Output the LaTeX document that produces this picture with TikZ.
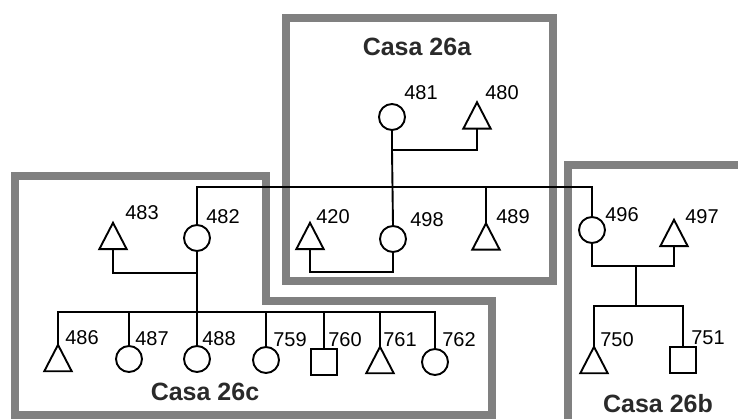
\documentclass[tikz,border=0pt]{standalone}
\usepackage{fontspec}
\setmainfont{Liberation Sans}
\definecolor{boxgray}{HTML}{808080}
\definecolor{casatext}{HTML}{2A2A2A}
\tikzset{
  ln/.style={line width=1.9pt, line join=miter},
  fem/.style={circle, draw, line width=1.9pt, minimum size=26pt, inner sep=0pt},
  sq/.style={rectangle, draw, line width=1.9pt, minimum size=26pt, inner sep=0pt},
  tri/.style={rectangle, draw=none, minimum width=27pt, minimum height=26pt, inner sep=0pt,
    append after command={\pgfextra{\draw[line width=1.9pt, line join=miter]
      (\tikzlastnode.south west) -- (\tikzlastnode.north) -- (\tikzlastnode.south east) -- cycle;}}},
  num/.style={font=\fontsize{20}{24}\selectfont, inner sep=0pt},
  casa/.style={font=\bfseries\fontsize{25}{30}\selectfont, text=casatext, inner sep=0pt},
  gbox/.style={draw=boxgray, line width=8pt, line join=miter}
}
\begin{document}
\begin{tikzpicture}[x=1pt,y=-1pt]
\useasboundingbox (0,0) rectangle (738,419);
\clip (0,0) rectangle (738,419);
% boxes
\draw[gbox] (15,415) -- (15,176) -- (266,176) -- (266,301) -- (492,301) -- (492,415) -- cycle;
\draw[gbox] (286,18) rectangle (553,281);
\draw[gbox] (568,440) -- (568,165) -- (760,165);
% box titles
\node[casa] (casaA) at (417,47) {Casa 26a};
\node[casa] (casaC) at (205,392) {Casa 26c};
\node[casa] (casaB) at (658,404) {Casa 26b};
% individuals
\node[fem] (c481) at (392,117) {};
\node[tri] (t480) at (477,115.5) {};
\node[fem] (c498) at (393,239) {};
\node[tri] (t420) at (310,236) {};
\node[tri] (t489) at (486,236.5) {};
\node[fem] (c482) at (197,238) {};
\node[tri] (t483) at (113,236) {};
\node[fem] (c496) at (592,230) {};
\node[tri] (t497) at (674,233) {};
\node[tri] (t486) at (58,358) {};
\node[fem] (c487) at (129,359) {};
\node[fem] (c488) at (197,359) {};
\node[fem] (c759) at (266,360) {};
\node[sq]  (s760) at (324,362) {};
\node[tri] (t761) at (380,360) {};
\node[fem] (c762) at (435,362) {};
\node[tri] (t750) at (594,360) {};
\node[sq]  (s751) at (683,360) {};
% labels
\node[num] (l481) at (421,93) {481};
\node[num] (l480) at (502,93) {480};
\node[num] (l498) at (427,220) {498};
\node[num] (l420) at (333,217) {420};
\node[num] (l489) at (513,217) {489};
\node[num] (l483) at (142,213) {483};
\node[num] (l482) at (223,217) {482};
\node[num] (l496) at (622,215) {496};
\node[num] (l497) at (702,217) {497};
\node[num] (l486) at (82,338) {486};
\node[num] (l487) at (152,339) {487};
\node[num] (l488) at (219,339) {488};
\node[num] (l759) at (290,340) {759};
\node[num] (l760) at (345,340) {760};
\node[num] (l761) at (400,340) {761};
\node[num] (l762) at (459,340) {762};
\node[num] (l750) at (617,340) {750};
\node[num] (l751) at (708,338) {751};
% junction coordinates
\coordinate (cp1) at (392,150);
\coordinate (mainL) at (197,187);
\coordinate (mainR) at (592,187);
\coordinate (u420) at (352,272);
\coordinate (u482) at (155,273);
\coordinate (sibL) at (58,312);
\coordinate (sibR) at (435,312);
\coordinate (u496) at (636,266);
\coordinate (sibL2) at (594,306);
\coordinate (sibR2) at (683,306);
% connectors
\draw[ln] (c481.south) -- (cp1) -| (t480.south);
\draw[ln] (cp1) -- (c498.north);
\draw[ln] (c482.north) -- (mainL) -- (mainR) -- (c496.north);
\draw[ln] (t489.north) -- (t489.north |- mainL);
\draw[ln] (t420.south) |- (u420) -| (c498.south);
\draw[ln] (t483.south) |- (u482) -| (c482.south);
\draw[ln] (c482.south) -- (c482.south |- sibL);
\draw[ln] (t486.north) -- (sibL) -- (sibR) -- (c762.north);
\draw[ln] (c487.north) -- (c487.north |- sibL);
\draw[ln] (c488.north) -- (c488.north |- sibL);
\draw[ln] (c759.north) -- (c759.north |- sibL);
\draw[ln] (s760.north) -- (s760.north |- sibL);
\draw[ln] (t761.north) -- (t761.north |- sibL);
\draw[ln] (c496.south) |- (u496) -| (t497.south);
\draw[ln] (u496) -- (u496 |- sibL2);
\draw[ln] (t750.north) -- (sibL2) -- (sibR2) -- (s751.north);
\end{tikzpicture}
\end{document}
